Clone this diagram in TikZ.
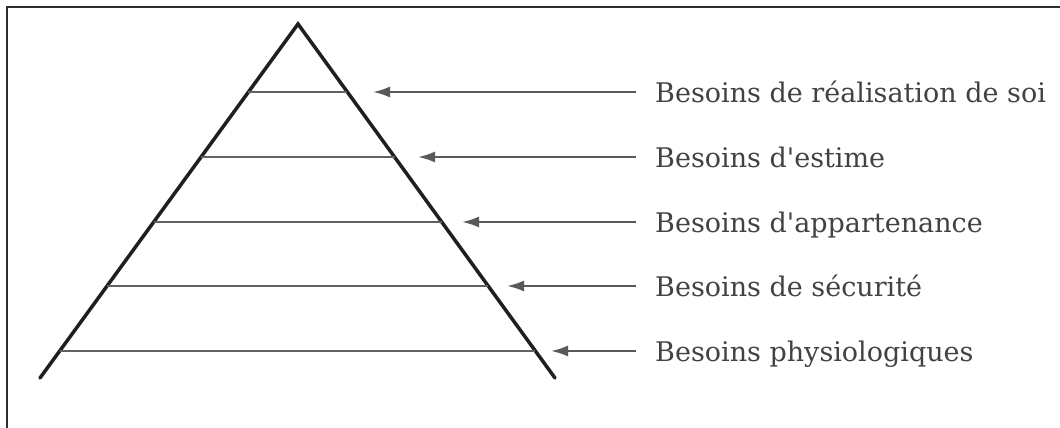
\documentclass[tikz,border=0pt]{standalone}
\usepackage{fontspec}
\setmainfont{DejaVu Serif}[Ligatures=TeXOff]
\usetikzlibrary{arrows.meta,calc}
\begin{document}
\begin{tikzpicture}[x=1pt,y=-1pt,
  side/.style={line width=3.5pt,draw=black!88,line cap=round},
  level/.style={line width=2.2pt,draw=black!62},
  pointer/.style={line width=2.2pt,draw=black!65,-{Latex[length=17pt,width=11pt]}},
  lab/.style={anchor=base west,inner sep=0pt,text=black!74,font=\fontsize{27}{30}\selectfont}]
\useasboundingbox (0,0) rectangle (1060,428);
\draw[line width=2.4pt,draw=black!82] (7,428) -- (7,7) -- (1060,7);
\coordinate (apex) at (298,24);
\coordinate (bl) at (40,378);
\coordinate (br) at (555,378);
\draw[side] (bl) -- (apex) -- (br);
\foreach \i/\y/\txt/\tip in {1/92/Besoins de réalisation de soi/373,
  2/157/Besoins d'estime/418,
  3/222/Besoins d'appartenance/462,
  4/286/Besoins de sécurité/507,
  5/351/Besoins physiologiques/551}{
  \pgfmathsetmacro{\f}{(\y-24)/354}
  \coordinate (l\i) at ($(apex)!\f!(bl)$);
  \coordinate (r\i) at ($(apex)!\f!(br)$);
  \draw[level] (l\i) -- (r\i);
  \node[lab] (t\i) at (655,\y+10) {\txt};
  \coordinate (s\i) at (636,\y);
  \coordinate (e\i) at (\tip,\y);
  \draw[pointer] (s\i) -- (e\i);
}
\end{tikzpicture}
\end{document}
